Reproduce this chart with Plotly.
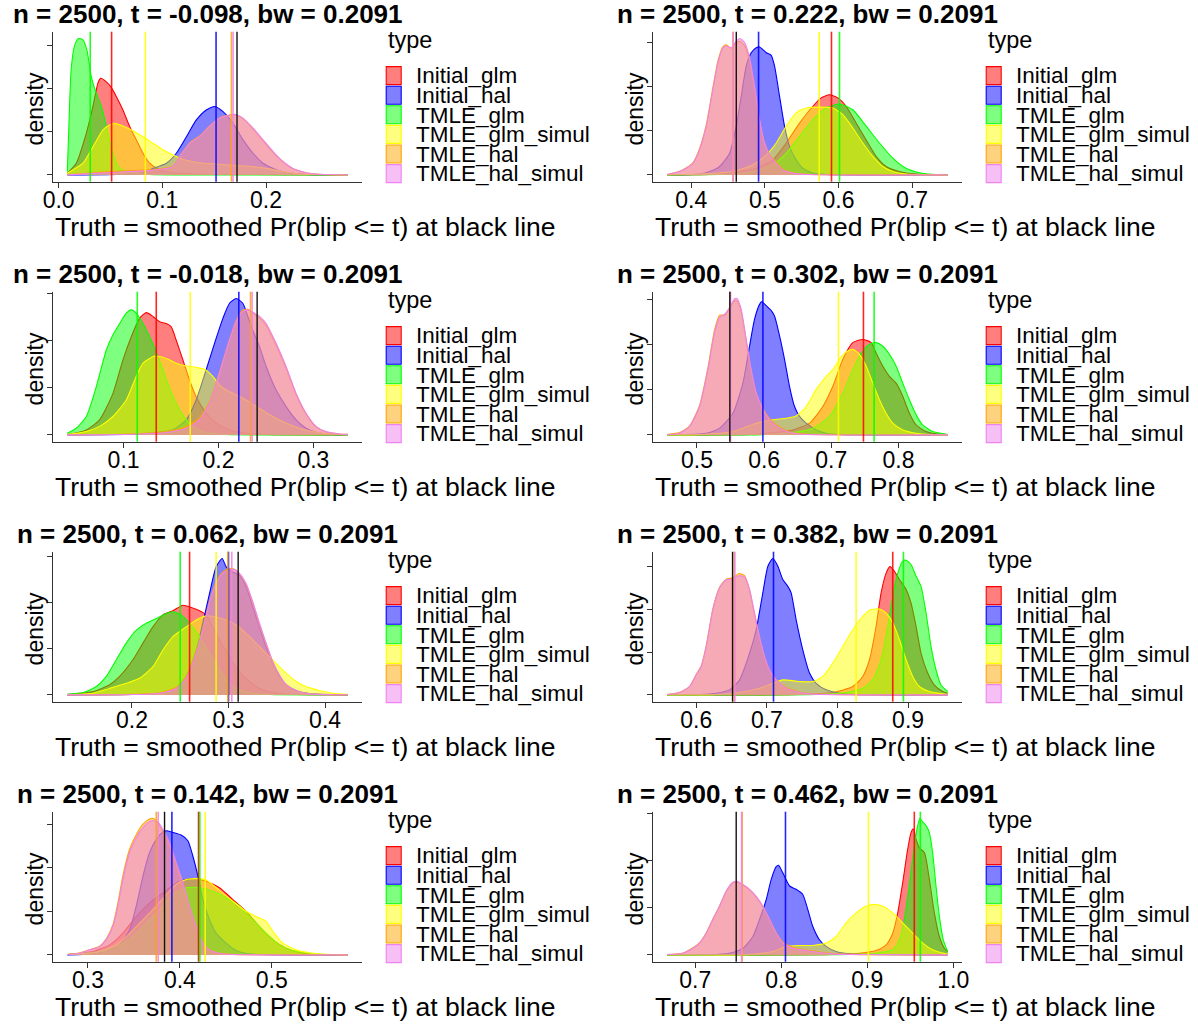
import plotly.graph_objects as go

# ---------------------------------------------------------------------------
# Simulation summary: for each threshold t, the distribution of the estimates
# of the smoothed Pr(blip <= t) from every estimator (kernel densities), the
# mean of each estimator and the true value (black line).
# ---------------------------------------------------------------------------
N_OBS = 2500
BANDWIDTH = 0.2091

TYPES = ["Initial_glm", "Initial_hal", "TMLE_glm", "TMLE_glm_simul", "TMLE_hal", "TMLE_hal_simul"]
TYPE_COLORS = ["#FF0000", "#0000FF", "#00FF00", "#FFFF00", "#FFA500", "#EE82EE"]

# thresholds, in panel order (row by row, left to right)
T_VALUES = [-0.098, 0.222, -0.018, 0.302, 0.062, 0.382, 0.142, 0.462]

# true smoothed probability per panel
TRUTH = [0.1720, 0.4611, 0.2407, 0.5490, 0.3100, 0.6514, 0.3833, 0.7476]

# estimator means per panel, in TYPES order
MEANS_1 = [0.0511, 0.1518, 0.0305, 0.0836, 0.1666, 0.1682]
MEANS_2 = [0.5905, 0.4914, 0.6014, 0.5738, 0.4570, 0.4566]
MEANS_3 = [0.1344, 0.2214, 0.1144, 0.1702, 0.2337, 0.2354]
MEANS_4 = [0.7479, 0.5982, 0.7638, 0.7107, 0.5490, 0.5500]
MEANS_5 = [0.2597, 0.3000, 0.2500, 0.2872, 0.2993, 0.3034]
MEANS_6 = [0.8783, 0.7094, 0.8934, 0.8264, 0.6538, 0.6547]
MEANS_7 = [0.4203, 0.3913, 0.4217, 0.4275, 0.3743, 0.3764]
MEANS_8 = [0.9547, 0.8049, 0.9617, 0.9013, 0.7546, 0.7538]

# ---- density curves: (estimate, density) pairs --------------------------
# t = -0.098
P1_INITIAL_GLM = [(0.0084, 0.4), (0.017, 2.7), (0.0267, 9.6), (0.0331, 15.8), (0.0379, 21.2), (0.0405, 22.3),
                  (0.046, 21.5), (0.0508, 20.2), (0.0556, 18.1), (0.062, 15.0), (0.0685, 11.2), (0.0749, 8.1),
                  (0.0814, 5.0), (0.0878, 2.7), (0.0974, 1.2), (0.110, 0.5), (0.136, 0.2), (0.2787, 0.0)]
P1_INITIAL_HAL = [(0.0084, 0.0), (0.0781, 0.4), (0.091, 1.5), (0.1039, 2.7), (0.1135, 5.0), (0.1232, 8.8),
                  (0.1328, 12.7), (0.1424, 15.0), (0.1505, 15.8), (0.1585, 14.6), (0.1682, 11.9), (0.1778, 8.1),
                  (0.1875, 5.0), (0.1971, 2.7), (0.21, 1.2), (0.2228, 0.4), (0.2389, 0.1), (0.2787, 0.0)]
P1_TMLE_GLM = [(0.0084, 0.8), (0.0100, 12.0), (0.0120, 24.0), (0.0150, 29.5), (0.0190, 31.5), (0.0235, 31.2),
               (0.0273, 28.8), (0.0315, 22.7), (0.0363, 18.8), (0.0412, 15.8), (0.046, 11.2), (0.0524, 5.0),
               (0.0588, 1.5), (0.0717, 0.5), (0.0878, 0.1), (0.2787, 0.0)]
P1_TMLE_GLM_SIMUL = [(0.0084, 0.4), (0.0235, 2.7), (0.0331, 6.5), (0.0428, 10.4), (0.0492, 11.5), (0.054, 11.9),
                     (0.062, 11.3), (0.0717, 10.2), (0.0814, 8.8), (0.091, 7.3), (0.1006, 5.8), (0.1103, 4.6),
                     (0.12, 3.6), (0.136, 2.8), (0.152, 2.5), (0.168, 2.2), (0.1875, 1.9), (0.2003, 1.5),
                     (0.2164, 0.8), (0.2325, 0.2), (0.2787, 0.0)]
P1_TMLE_HAL = [(0.0084, 0.0), (0.0396, 0.6), (0.0717, 1.0), (0.0942, 1.3), (0.1103, 2.0), (0.1167, 4.3),
               (0.1264, 7.4), (0.136, 9.0), (0.1457, 11.3), (0.1553, 13.2), (0.165, 13.8), (0.1698, 13.9),
               (0.1778, 13.0), (0.1875, 10.6), (0.1971, 7.9), (0.2068, 5.2), (0.2164, 3.0), (0.226, 1.4),
               (0.2389, 0.5), (0.2518, 0.15), (0.2787, 0.0)]
P1_TMLE_HAL_SIMUL = [(0.0084, 0.0), (0.0396, 0.4), (0.0717, 0.8), (0.0942, 1.2), (0.1103, 1.9), (0.1167, 4.2),
                     (0.1264, 7.3), (0.136, 8.8), (0.1457, 11.2), (0.1553, 13.1), (0.165, 13.8), (0.1698, 14.0),
                     (0.1778, 13.1), (0.1875, 10.8), (0.1971, 8.1), (0.2068, 5.4), (0.2164, 3.1), (0.226, 1.5),
                     (0.2389, 0.5), (0.2518, 0.15), (0.2787, 0.0)]

# t = 0.222
P2_INITIAL_GLM = [(0.3674, 0.0), (0.4339, 0.15), (0.4656, 0.76), (0.4882, 1.5), (0.5109, 3.4), (0.529, 7.2),
                  (0.5471, 11.7), (0.5652, 15.5), (0.5765, 17.4), (0.5878, 18.1), (0.5991, 17.4), (0.6104, 15.5),
                  (0.624, 11.7), (0.6376, 7.9), (0.6511, 4.2), (0.6647, 1.9), (0.6828, 0.76), (0.7054, 0.2),
                  (0.7484, 0.0)]
P2_INITIAL_HAL = [(0.3674, 0.0), (0.4113, 0.2), (0.4249, 0.76), (0.4385, 1.9), (0.452, 4.9), (0.4611, 11.0),
                  (0.4679, 17.8), (0.4747, 24.6), (0.4814, 27.6), (0.4882, 28.7), (0.4928, 28.9), (0.4973, 28.3),
                  (0.5018, 27.6), (0.5086, 27.0), (0.5131, 24.6), (0.5199, 17.8), (0.5267, 11.0), (0.5335, 6.4),
                  (0.5425, 3.4), (0.5516, 1.5), (0.5652, 0.4), (0.5833, 0.1), (0.7484, 0.0)]
P2_TMLE_GLM = [(0.3674, 0.0), (0.4566, 0.2), (0.4837, 0.76), (0.5109, 2.3), (0.529, 4.9), (0.5471, 8.7),
               (0.5652, 12.5), (0.5833, 15.1), (0.6014, 16.0), (0.6195, 14.7), (0.6376, 11.0), (0.6557, 7.2),
               (0.6738, 3.8), (0.6919, 1.5), (0.71, 0.5), (0.7281, 0.15), (0.7484, 0.0)]
P2_TMLE_GLM_SIMUL = [(0.3674, 0.0), (0.4113, 0.2), (0.4566, 0.76), (0.4837, 2.3), (0.5018, 4.5), (0.5154, 7.2),
                     (0.529, 11.0), (0.5425, 14.0), (0.5561, 15.1), (0.5742, 15.3), (0.5923, 15.1), (0.6059, 13.6),
                     (0.6195, 10.6), (0.633, 7.2), (0.6466, 4.2), (0.6602, 1.9), (0.6738, 0.76), (0.6919, 0.2),
                     (0.7484, 0.0)]
P2_TMLE_HAL = [(0.3674, 0.1), (0.3842, 0.8), (0.3932, 1.6), (0.4023, 2.8), (0.4113, 6.0), (0.4204, 11.4),
               (0.4294, 19.8), (0.4362, 25.8), (0.443, 29.0), (0.4475, 29.4), (0.4543, 28.6), (0.4611, 29.8),
               (0.4656, 30.2), (0.4724, 29.2), (0.4792, 25.8), (0.486, 19.5), (0.4928, 12.2), (0.4995, 7.2),
               (0.5063, 4.6), (0.5154, 2.8), (0.5244, 1.3), (0.538, 0.5), (0.5561, 0.15), (0.7484, 0.0)]
P2_TMLE_HAL_SIMUL = [(0.3674, 0.1), (0.3842, 0.76), (0.3932, 1.5), (0.4023, 2.6), (0.4113, 5.7), (0.4204, 11.0),
                     (0.4294, 19.3), (0.4362, 25.3), (0.443, 28.7), (0.4475, 29.1), (0.4543, 28.7), (0.4611, 30.2),
                     (0.4656, 30.8), (0.4724, 29.9), (0.4792, 26.5), (0.486, 20.0), (0.4928, 12.5), (0.4995, 7.2),
                     (0.5063, 4.5), (0.5154, 2.6), (0.5244, 1.1), (0.538, 0.4), (0.5561, 0.1), (0.7484, 0.0)]

# t = -0.018
P3_INITIAL_GLM = [(0.0407, 0.05), (0.0607, 1.06), (0.0747, 3.2), (0.0888, 8.8), (0.0993, 15.9), (0.1081, 20.8),
                  (0.1168, 24.7), (0.1239, 25.9), (0.1309, 25.1), (0.1379, 24.0), (0.1449, 23.6), (0.1502, 22.9),
                  (0.1554, 20.1), (0.1625, 15.9), (0.1695, 11.6), (0.1765, 8.1), (0.187, 4.6), (0.1975, 2.5),
                  (0.2116, 1.06), (0.2291, 0.35), (0.2502, 0.07), (0.3361, 0.0)]
P3_INITIAL_HAL = [(0.0407, 0.0), (0.1098, 0.14), (0.1344, 0.5), (0.1519, 1.06), (0.166, 3.2), (0.1765, 7.4),
                  (0.187, 13.8), (0.1958, 19.4), (0.2046, 24.7), (0.2116, 27.9), (0.2186, 28.9), (0.2256, 27.9),
                  (0.2309, 25.1), (0.2361, 22.2), (0.2432, 18.7), (0.2502, 14.5), (0.2607, 9.5), (0.2712, 6.0),
                  (0.2818, 3.2), (0.2923, 1.4), (0.3028, 0.56), (0.3168, 0.14), (0.3361, 0.0)]
P3_TMLE_GLM = [(0.0407, 0.35), (0.0502, 1.4), (0.0607, 3.9), (0.0712, 10.2), (0.0818, 18.0), (0.0888, 21.2),
               (0.0958, 23.6), (0.1028, 25.8), (0.1081, 26.5), (0.1133, 25.8), (0.1204, 23.6), (0.1274, 20.8),
               (0.1344, 17.6), (0.1414, 13.8), (0.1484, 9.9), (0.1554, 6.7), (0.1625, 4.2), (0.173, 1.8),
               (0.187, 0.5), (0.2081, 0.07), (0.3361, 0.0)]
P3_TMLE_GLM_SIMUL = [(0.0407, 0.05), (0.0607, 0.7), (0.0747, 1.8), (0.0888, 3.9), (0.1028, 7.4), (0.1133, 12.4),
                     (0.1204, 15.2), (0.1274, 16.2), (0.1326, 16.7), (0.1449, 16.2), (0.1554, 15.2), (0.166, 14.6),
                     (0.1765, 14.3), (0.1853, 13.9), (0.194, 12.4), (0.2028, 10.2), (0.2151, 8.8), (0.2291, 7.4),
                     (0.2432, 5.6), (0.2572, 3.9), (0.2712, 2.5), (0.2853, 1.4), (0.2993, 0.7), (0.3133, 0.28),
                     (0.3361, 0.0)]
P3_TMLE_HAL = [(0.0407, 0.0), (0.1098, 0.2), (0.1449, 0.7), (0.166, 1.8), (0.18, 3.6), (0.1905, 7.0),
               (0.2011, 13.3), (0.2116, 20.2), (0.2186, 24.2), (0.2256, 26.4), (0.2309, 26.6), (0.2379, 25.6),
               (0.2432, 24.8), (0.2502, 23.2), (0.2607, 19.0), (0.2712, 14.1), (0.2818, 8.5), (0.2923, 4.4),
               (0.3028, 1.7), (0.3133, 0.6), (0.3274, 0.2), (0.3361, 0.1)]
P3_TMLE_HAL_SIMUL = [(0.0407, 0.0), (0.1098, 0.14), (0.1449, 0.5), (0.166, 1.4), (0.18, 3.2), (0.1905, 6.7),
                     (0.2011, 13.1), (0.2116, 20.1), (0.2186, 24.0), (0.2256, 26.1), (0.2309, 26.5), (0.2379, 25.8),
                     (0.2432, 25.1), (0.2502, 23.6), (0.2607, 19.4), (0.2712, 14.5), (0.2818, 8.8), (0.2923, 4.6),
                     (0.3028, 1.8), (0.3133, 0.7), (0.3274, 0.2), (0.3361, 0.1)]

# t = 0.302
P4_INITIAL_GLM = [(0.4559, 0.0), (0.5783, 0.07), (0.613, 0.5), (0.6428, 1.1), (0.6676, 2.6), (0.6874, 6.3),
                  (0.7023, 10.8), (0.7172, 16.8), (0.732, 20.5), (0.7469, 21.2), (0.7593, 20.5), (0.7667, 18.2),
                  (0.7766, 15.3), (0.7866, 13.0), (0.7965, 11.5), (0.8064, 8.6), (0.8163, 4.8), (0.8262, 2.2),
                  (0.8411, 0.74), (0.856, 0.22), (0.8733, 0.05)]
P4_INITIAL_HAL = [(0.4559, 0.0), (0.4792, 0.07), (0.5139, 0.37), (0.5337, 1.5), (0.5535, 4.8), (0.5684, 11.5),
                  (0.5783, 19.7), (0.5858, 25.7), (0.5932, 29.0), (0.5967, 29.6), (0.6031, 28.7), (0.6106, 27.6),
                  (0.6155, 26.4), (0.623, 22.0), (0.6304, 16.8), (0.6378, 10.8), (0.6453, 6.3), (0.6527, 4.1),
                  (0.6626, 2.6), (0.6775, 1.1), (0.6924, 0.37), (0.7122, 0.07), (0.8733, 0.0)]
P4_TMLE_GLM = [(0.4559, 0.0), (0.6031, 0.07), (0.6428, 0.5), (0.6725, 1.5), (0.6973, 4.1), (0.7172, 9.3),
               (0.732, 14.5), (0.7469, 18.6), (0.7568, 20.1), (0.7667, 20.5), (0.7766, 19.7), (0.7866, 17.9),
               (0.7965, 15.3), (0.8064, 11.5), (0.8163, 7.8), (0.8262, 4.5), (0.8361, 2.2), (0.851, 0.74),
               (0.8708, 0.15), (0.8733, 0.1)]
P4_TMLE_GLM_SIMUL = [(0.4559, 0.0), (0.504, 0.07), (0.5535, 0.74), (0.5882, 2.6), (0.613, 3.35), (0.6329, 3.7),
                     (0.6477, 4.2), (0.6626, 6.3), (0.6775, 10.1), (0.6924, 13.0), (0.7023, 14.5), (0.7122, 16.8),
                     (0.7221, 18.4), (0.732, 19.0), (0.7419, 17.9), (0.7519, 15.3), (0.7618, 11.5), (0.7717, 7.8),
                     (0.7816, 4.8), (0.7915, 2.6), (0.8064, 1.1), (0.8262, 0.37), (0.8461, 0.07), (0.8733, 0.0)]
P4_TMLE_HAL = [(0.4559, 0.1), (0.4742, 0.5), (0.4891, 2.0), (0.504, 6.6), (0.5164, 15.0), (0.5263, 23.4),
               (0.5337, 26.6), (0.5412, 26.6), (0.5486, 28.0), (0.556, 29.8), (0.5595, 29.8), (0.5659, 27.4),
               (0.5734, 20.8), (0.5808, 14.2), (0.5882, 9.3), (0.5982, 5.8), (0.6081, 3.6), (0.623, 1.7),
               (0.6378, 0.7), (0.6577, 0.2), (0.8733, 0.0)]
P4_TMLE_HAL_SIMUL = [(0.4559, 0.07), (0.4742, 0.37), (0.4891, 1.86), (0.504, 6.3), (0.5164, 14.5), (0.5263, 22.7),
                     (0.5337, 26.1), (0.5412, 26.8), (0.5486, 28.3), (0.556, 30.2), (0.5595, 30.3), (0.5659, 27.9),
                     (0.5734, 21.2), (0.5808, 14.5), (0.5882, 9.3), (0.5982, 5.6), (0.6081, 3.35), (0.623, 1.5),
                     (0.6378, 0.6), (0.6577, 0.15), (0.8733, 0.0)]

# t = 0.062
P5_INITIAL_GLM = [(0.1331, 0.07), (0.1597, 0.72), (0.1769, 2.2), (0.1872, 4.0), (0.201, 7.6), (0.2114, 11.2),
                  (0.2217, 14.7), (0.2321, 17.3), (0.2424, 18.2), (0.2528, 19.4), (0.2614, 18.9), (0.27, 18.2),
                  (0.2769, 17.3), (0.2838, 14.7), (0.2907, 11.9), (0.301, 8.3), (0.3114, 5.0), (0.3217, 2.9),
                  (0.3321, 1.4), (0.3459, 0.5), (0.3631, 0.14), (0.4234, 0.0)]
P5_INITIAL_HAL = [(0.1331, 0.0), (0.201, 0.07), (0.2286, 0.36), (0.2459, 1.4), (0.2562, 4.0), (0.2666, 9.7),
                  (0.2734, 15.5), (0.2803, 21.9), (0.2872, 27.7), (0.2934, 29.5), (0.2976, 27.7), (0.3045, 26.6),
                  (0.3114, 25.9), (0.3183, 23.4), (0.3252, 19.1), (0.3321, 14.7), (0.339, 10.4), (0.3459, 6.8),
                  (0.3528, 4.0), (0.3597, 2.2), (0.37, 0.94), (0.3838, 0.29), (0.4234, 0.0)]
P5_TMLE_GLM = [(0.1331, 0.14), (0.1493, 0.5), (0.1631, 1.8), (0.1734, 4.0), (0.1838, 7.6), (0.1941, 11.2),
               (0.2045, 14.0), (0.2148, 15.5), (0.2252, 16.5), (0.2355, 17.6), (0.2424, 18.0), (0.251, 17.3),
               (0.2597, 15.5), (0.27, 12.6), (0.2803, 9.0), (0.2907, 5.4), (0.301, 2.5), (0.3114, 1.1),
               (0.3252, 0.36), (0.3424, 0.07), (0.4234, 0.0)]
P5_TMLE_GLM_SIMUL = [(0.1331, 0.07), (0.1597, 0.36), (0.1769, 1.4), (0.1941, 2.5), (0.2079, 3.6), (0.2217, 6.1),
                     (0.2321, 9.7), (0.2424, 12.6), (0.2562, 14.7), (0.2666, 16.2), (0.2769, 17.1), (0.2872, 16.8),
                     (0.2976, 16.2), (0.3079, 15.1), (0.3183, 13.3), (0.3286, 11.2), (0.339, 9.0), (0.3493, 6.8),
                     (0.3597, 4.7), (0.37, 2.9), (0.3803, 1.8), (0.3941, 0.94), (0.4079, 0.36), (0.4234, 0.12)]
P5_TMLE_HAL = [(0.1331, 0.0), (0.201, 0.1), (0.2286, 0.45), (0.2459, 1.6), (0.2562, 3.9), (0.2666, 9.4),
               (0.2734, 14.4), (0.2803, 20.1), (0.2872, 24.4), (0.2941, 26.6), (0.301, 27.3), (0.3062, 27.2),
               (0.3114, 26.2), (0.3183, 23.8), (0.3252, 19.7), (0.3321, 15.1), (0.339, 10.9), (0.3459, 7.0),
               (0.3528, 4.2), (0.3597, 2.1), (0.37, 0.9), (0.3838, 0.22), (0.4234, 0.0)]
P5_TMLE_HAL_SIMUL = [(0.1331, 0.0), (0.201, 0.07), (0.2286, 0.36), (0.2459, 1.4), (0.2562, 3.6), (0.2666, 9.0),
                     (0.2734, 14.0), (0.2803, 19.8), (0.2872, 24.1), (0.2941, 26.3), (0.301, 27.0), (0.3062, 27.1),
                     (0.3114, 26.3), (0.3183, 24.1), (0.3252, 20.1), (0.3321, 15.5), (0.339, 11.2), (0.3459, 7.2),
                     (0.3528, 4.3), (0.3597, 2.2), (0.37, 0.94), (0.3838, 0.22), (0.4234, 0.0)]

# t = 0.382
P6_INITIAL_GLM = [(0.559, 0.0), (0.7462, 0.08), (0.7934, 0.55), (0.8217, 1.95), (0.8358, 4.3), (0.8453, 8.2),
                  (0.8547, 16.0), (0.8618, 23.8), (0.8689, 28.4), (0.8745, 29.9), (0.8807, 28.8), (0.8877, 26.9),
                  (0.8972, 24.6), (0.9042, 21.4), (0.9113, 16.0), (0.9184, 9.7), (0.9278, 5.1), (0.9373, 2.3),
                  (0.9491, 0.78), (0.9561, 0.39)]
P6_INITIAL_HAL = [(0.559, 0.0), (0.6047, 0.08), (0.6283, 0.39), (0.6472, 1.17), (0.6613, 3.5), (0.6755, 9.7),
                  (0.6849, 15.2), (0.6943, 23.8), (0.7014, 30.0), (0.7085, 31.8), (0.7156, 30.0), (0.7226, 26.9),
                  (0.7297, 25.3), (0.7344, 23.8), (0.7415, 17.5), (0.7509, 10.5), (0.7604, 5.1), (0.7698, 2.7),
                  (0.784, 1.17), (0.8028, 0.39), (0.8217, 0.08), (0.9561, 0.0)]
P6_TMLE_GLM = [(0.559, 0.0), (0.7698, 0.08), (0.8123, 0.55), (0.8358, 1.56), (0.85, 3.5), (0.8618, 8.2),
               (0.8712, 16.0), (0.8783, 23.0), (0.8854, 28.4), (0.8925, 31.2), (0.8972, 31.4), (0.9042, 30.4),
               (0.9113, 27.7), (0.9184, 25.3), (0.9255, 19.1), (0.9325, 11.3), (0.9396, 5.8), (0.9467, 2.3),
               (0.9561, 0.78)]
P6_TMLE_GLM_SIMUL = [(0.559, 0.0), (0.6283, 0.08), (0.6613, 0.55), (0.6896, 1.56), (0.7085, 2.7), (0.7226, 3.5),
                     (0.7462, 3.1), (0.7651, 3.1), (0.7792, 4.3), (0.7934, 7.4), (0.8075, 11.3), (0.8217, 15.2),
                     (0.8358, 18.3), (0.8476, 19.9), (0.8594, 20.0), (0.8689, 19.1), (0.8783, 16.8), (0.8877, 12.9),
                     (0.8972, 8.2), (0.9066, 4.3), (0.916, 1.95), (0.9302, 0.78), (0.9491, 0.23), (0.9561, 0.1)]
P6_TMLE_HAL = [(0.559, 0.1), (0.5764, 0.6), (0.5906, 2.0), (0.6, 4.8), (0.6071, 6.8), (0.6142, 11.6),
               (0.6236, 20.2), (0.633, 25.1), (0.6425, 27.0), (0.6519, 27.3), (0.6604, 28.3), (0.6684, 27.8),
               (0.6755, 24.4), (0.6825, 18.8), (0.6896, 13.3), (0.6967, 8.8), (0.7038, 5.7), (0.7132, 3.5),
               (0.7274, 1.7), (0.7415, 0.9), (0.7604, 0.3), (0.9561, 0.0)]
P6_TMLE_HAL_SIMUL = [(0.559, 0.08), (0.5764, 0.55), (0.5906, 1.95), (0.6, 4.7), (0.6071, 6.6), (0.6142, 11.3),
                     (0.6236, 19.9), (0.633, 24.9), (0.6425, 26.9), (0.6519, 27.0), (0.6604, 27.8), (0.6684, 27.5),
                     (0.6755, 24.6), (0.6825, 19.1), (0.6896, 13.6), (0.6967, 9.0), (0.7038, 5.8), (0.7132, 3.5),
                     (0.7274, 1.56), (0.7415, 0.78), (0.7604, 0.23), (0.9561, 0.0)]

# t = 0.142
P7_INITIAL_GLM = [(0.2775, 0.08), (0.3054, 0.77), (0.3236, 2.3), (0.338, 5.0), (0.3525, 8.8), (0.367, 11.9),
                  (0.3815, 14.2), (0.396, 16.5), (0.4069, 17.3), (0.4178, 17.5), (0.4286, 16.9), (0.4431, 15.4),
                  (0.4576, 12.7), (0.4721, 10.0), (0.4866, 6.5), (0.5011, 3.5), (0.5156, 1.5), (0.5301, 0.54),
                  (0.5482, 0.15), (0.5826, 0.0)]
P7_INITIAL_HAL = [(0.2775, 0.0), (0.2946, 0.08), (0.3199, 0.77), (0.3344, 2.3), (0.3453, 5.8), (0.3525, 11.2),
                  (0.3598, 18.1), (0.367, 23.5), (0.3743, 26.5), (0.3815, 28.2), (0.3851, 28.5), (0.3924, 28.1),
                  (0.4014, 27.5), (0.4087, 26.2), (0.4141, 22.7), (0.4196, 18.1), (0.425, 12.7), (0.4322, 8.1),
                  (0.4395, 5.0), (0.4504, 2.7), (0.4612, 1.0), (0.4757, 0.23), (0.5826, 0.0)]
P7_TMLE_GLM = [(0.2775, 0.08), (0.3127, 0.77), (0.3308, 1.9), (0.3489, 4.2), (0.3634, 7.3), (0.3779, 10.4),
               (0.3924, 13.8), (0.4069, 15.4), (0.4214, 15.4), (0.4359, 14.6), (0.4504, 13.1), (0.4649, 11.2),
               (0.4793, 8.1), (0.4938, 5.0), (0.5083, 2.3), (0.5228, 1.0), (0.5409, 0.38), (0.5591, 0.08),
               (0.5826, 0.0)]
P7_TMLE_GLM_SIMUL = [(0.2775, 0.08), (0.3091, 0.6), (0.3272, 1.9), (0.3417, 4.2), (0.3562, 7.3), (0.3707, 10.4),
                     (0.3851, 13.8), (0.396, 16.2), (0.4069, 17.3), (0.4178, 17.5), (0.4286, 17.2), (0.4431, 14.8),
                     (0.4576, 12.3), (0.4721, 10.0), (0.483, 8.8), (0.4938, 7.7), (0.5011, 5.4), (0.512, 2.7),
                     (0.5264, 1.15), (0.5446, 0.38), (0.5663, 0.08), (0.5826, 0.0)]
P7_TMLE_HAL = [(0.2775, 0.1), (0.2909, 0.45), (0.3018, 1.2), (0.3127, 2.0), (0.3199, 3.7), (0.3272, 7.0),
               (0.3326, 12.0), (0.338, 18.2), (0.3453, 24.3), (0.3525, 27.6), (0.3598, 30.0), (0.367, 31.2),
               (0.3714, 31.3), (0.3761, 30.3), (0.3815, 28.2), (0.3888, 25.0), (0.396, 20.5), (0.4033, 16.0),
               (0.4105, 11.0), (0.4178, 6.4), (0.425, 2.8), (0.4322, 1.2), (0.4431, 0.4), (0.4576, 0.1),
               (0.5826, 0.0)]
P7_TMLE_HAL_SIMUL = [(0.2775, 0.08), (0.2909, 0.38), (0.3018, 1.15), (0.3127, 1.9), (0.3199, 3.5), (0.3272, 6.5),
                     (0.3326, 11.2), (0.338, 17.3), (0.3453, 23.5), (0.3525, 26.9), (0.3598, 29.2), (0.367, 30.6),
                     (0.3714, 30.8), (0.3761, 30.5), (0.3815, 28.8), (0.3888, 25.8), (0.396, 21.2), (0.4033, 16.5),
                     (0.4105, 11.2), (0.4178, 6.5), (0.425, 2.7), (0.4322, 1.15), (0.4431, 0.38), (0.4576, 0.08),
                     (0.5826, 0.0)]

# t = 0.462
P8_INITIAL_GLM = [(0.6675, 0.0), (0.8599, 0.07), (0.8909, 0.36), (0.9102, 0.92), (0.9218, 2.1), (0.9296, 4.6),
                  (0.9354, 8.9), (0.9412, 15.3), (0.947, 22.4), (0.9509, 25.9), (0.9536, 26.7), (0.9567, 24.5),
                  (0.9605, 22.7), (0.9664, 21.7), (0.9722, 16.0), (0.978, 8.9), (0.9838, 3.9), (0.9896, 1.4),
                  (0.9935, 0.71)]
P8_INITIAL_HAL = [(0.6675, 0.0), (0.7244, 0.07), (0.7437, 0.5), (0.7554, 1.4), (0.767, 3.9), (0.7747, 7.5),
                  (0.7825, 11.7), (0.7883, 16.0), (0.7941, 18.7), (0.7968, 19.0), (0.8018, 17.4), (0.8096, 14.6),
                  (0.8173, 13.9), (0.825, 12.8), (0.8309, 9.6), (0.8367, 6.0), (0.8444, 3.2), (0.8521, 1.8),
                  (0.8638, 0.71), (0.8792, 0.21), (0.8986, 0.07), (0.9935, 0.0)]
P8_TMLE_GLM = [(0.6675, 0.0), (0.8792, 0.07), (0.9102, 0.36), (0.9296, 1.07), (0.9373, 3.2), (0.9431, 7.5),
               (0.9489, 14.6), (0.9547, 23.1), (0.9586, 27.4), (0.9613, 28.9), (0.9644, 28.2), (0.9683, 27.4),
               (0.9722, 25.9), (0.976, 21.7), (0.9799, 14.6), (0.9838, 8.2), (0.9884, 3.2), (0.9935, 0.71)]
P8_TMLE_GLM_SIMUL = [(0.6675, 0.0), (0.7631, 0.07), (0.7902, 0.71), (0.8057, 1.8), (0.8212, 2.0), (0.8367, 2.0),
                     (0.8521, 2.5), (0.8638, 3.9), (0.8754, 6.8), (0.887, 8.9), (0.8986, 10.3), (0.9083, 10.7),
                     (0.918, 10.3), (0.9296, 8.9), (0.9412, 6.8), (0.9528, 4.6), (0.9644, 2.5), (0.976, 1.07),
                     (0.9915, 0.21), (0.9935, 0.15)]
P8_TMLE_HAL = [(0.6675, 0.07), (0.6857, 0.4), (0.6973, 1.5), (0.705, 2.6), (0.7128, 4.7), (0.7205, 7.6),
               (0.7283, 10.4), (0.736, 13.5), (0.7437, 15.3), (0.7484, 15.4), (0.7554, 14.8), (0.7631, 13.8),
               (0.7708, 12.3), (0.7786, 10.2), (0.7863, 7.5), (0.7941, 4.7), (0.8018, 2.7), (0.8134, 1.6),
               (0.8289, 1.0), (0.8444, 0.6), (0.8599, 0.3), (0.8792, 0.1), (0.9935, 0.0)]
P8_TMLE_HAL_SIMUL = [(0.6675, 0.07), (0.6857, 0.36), (0.6973, 1.4), (0.705, 2.5), (0.7128, 4.6), (0.7205, 7.5),
                     (0.7283, 10.3), (0.736, 13.5), (0.7437, 15.4), (0.7484, 15.6), (0.7554, 14.9), (0.7631, 13.9),
                     (0.7708, 12.4), (0.7786, 10.3), (0.7863, 7.5), (0.7941, 4.6), (0.8018, 2.5), (0.8134, 1.4),
                     (0.8289, 0.92), (0.8444, 0.5), (0.8599, 0.21), (0.8792, 0.07), (0.9935, 0.0)]

PANELS = [
    ([P1_INITIAL_GLM, P1_INITIAL_HAL, P1_TMLE_GLM, P1_TMLE_GLM_SIMUL, P1_TMLE_HAL, P1_TMLE_HAL_SIMUL], MEANS_1),
    ([P2_INITIAL_GLM, P2_INITIAL_HAL, P2_TMLE_GLM, P2_TMLE_GLM_SIMUL, P2_TMLE_HAL, P2_TMLE_HAL_SIMUL], MEANS_2),
    ([P3_INITIAL_GLM, P3_INITIAL_HAL, P3_TMLE_GLM, P3_TMLE_GLM_SIMUL, P3_TMLE_HAL, P3_TMLE_HAL_SIMUL], MEANS_3),
    ([P4_INITIAL_GLM, P4_INITIAL_HAL, P4_TMLE_GLM, P4_TMLE_GLM_SIMUL, P4_TMLE_HAL, P4_TMLE_HAL_SIMUL], MEANS_4),
    ([P5_INITIAL_GLM, P5_INITIAL_HAL, P5_TMLE_GLM, P5_TMLE_GLM_SIMUL, P5_TMLE_HAL, P5_TMLE_HAL_SIMUL], MEANS_5),
    ([P6_INITIAL_GLM, P6_INITIAL_HAL, P6_TMLE_GLM, P6_TMLE_GLM_SIMUL, P6_TMLE_HAL, P6_TMLE_HAL_SIMUL], MEANS_6),
    ([P7_INITIAL_GLM, P7_INITIAL_HAL, P7_TMLE_GLM, P7_TMLE_GLM_SIMUL, P7_TMLE_HAL, P7_TMLE_HAL_SIMUL], MEANS_7),
    ([P8_INITIAL_GLM, P8_INITIAL_HAL, P8_TMLE_GLM, P8_TMLE_GLM_SIMUL, P8_TMLE_HAL, P8_TMLE_HAL_SIMUL], MEANS_8),
]

# ---------------------------------------------------------------------------
# Page layout (pixels)
# ---------------------------------------------------------------------------
FIG_W, FIG_H = 1198, 1028
COL_LEFT = [53.3, 653.3]        # left edge of the panel in each column
PANEL_W = 308.4
ROW_TOP0 = 31.7
ROW_STEP = 260.0
PANEL_H = 150.0

FONT = "Liberation Sans, Arial, Helvetica, sans-serif"
AXIS_COLOR = "#333333"
FILL_ALPHA = 0.5


def hex_rgba(hex_color, alpha):
    h = hex_color.lstrip("#")
    r, g, b = int(h[0:2], 16), int(h[2:4], 16), int(h[4:6], 16)
    return f"rgba({r},{g},{b},{alpha})"


def px_x(px):
    return px / FIG_W


def px_y(px):
    return 1.0 - px / FIG_H


X_TITLE = "Truth = smoothed Pr(blip <= t) at black line"

fig = go.Figure()
shapes = []
annotations = []
layout_axes = {}

for p, (curves, means) in enumerate(PANELS):
    row, col = divmod(p, 2)
    ax = p + 1
    xname = "x" if ax == 1 else f"x{ax}"
    yname = "y" if ax == 1 else f"y{ax}"
    left = COL_LEFT[col]
    top = ROW_TOP0 + ROW_STEP * row

    # densities, drawn in factor order so later groups sit on top
    for name, color, pts in zip(TYPES, TYPE_COLORS, curves):
        fig.add_trace(go.Scatter(
            x=[q[0] for q in pts], y=[q[1] for q in pts],
            mode="lines", name=name,
            line=dict(color=color, width=1.1, shape="spline", smoothing=0.6),
            fill="tozeroy", fillcolor=hex_rgba(color, FILL_ALPHA),
            xaxis=xname, yaxis=yname, showlegend=False, hoverinfo="skip",
        ))

    # scale ranges with the usual 5 % padding on both sides
    xs = [q[0] for c in curves for q in c]
    ys = [q[1] for c in curves for q in c]
    x_lo, x_hi = min(xs), max(xs)
    pad = 0.05 * (x_hi - x_lo)
    y_hi = max(ys)

    axis_common = dict(showline=True, linecolor=AXIS_COLOR, linewidth=1.1,
                       ticks="outside", ticklen=5, tickwidth=1.1, tickcolor=AXIS_COLOR,
                       showgrid=False, zeroline=False, automargin=False)
    layout_axes["xaxis" if ax == 1 else f"xaxis{ax}"] = dict(
        domain=[px_x(left), px_x(left + PANEL_W)], anchor=yname,
        range=[x_lo - pad, x_hi + pad], dtick=0.1, tick0=0, tickformat=".1f",
        ticklabelstandoff=-7,
        tickfont=dict(family=FONT, size=23, color="black"), **axis_common)
    layout_axes["yaxis" if ax == 1 else f"yaxis{ax}"] = dict(
        domain=[px_y(top + PANEL_H), px_y(top)], anchor=xname,
        range=[-0.05 * y_hi, 1.05 * y_hi], dtick=10, tick0=0,
        showticklabels=False, **axis_common)

    # estimator means, then the truth on top
    for color, m in zip(TYPE_COLORS, means):
        shapes.append(dict(type="line", xref=xname, yref=f"{yname} domain",
                           x0=m, x1=m, y0=0, y1=1,
                           line=dict(color=color, width=1.6), opacity=0.85))
    shapes.append(dict(type="line", xref=xname, yref=f"{yname} domain",
                       x0=TRUTH[p], x1=TRUTH[p], y0=0, y1=1,
                       line=dict(color="#111111", width=1.4)))

    # panel title
    title = f"n = {N_OBS}, t = {T_VALUES[p]:.3f}, bw = {BANDWIDTH:.4f}"
    annotations.append(dict(
        text=f"<b>{title}</b>",
        xref="paper", yref="paper", x=px_x(left + PANEL_W / 2), y=px_y(top - 18.0),
        xanchor="center", yanchor="middle", showarrow=False,
        font=dict(family=FONT, size=26, color="black")))
    # axis titles
    annotations.append(dict(
        text=X_TITLE,
        xref="paper", yref="paper", x=px_x(left), y=px_y(top + 195.0),
        xanchor="left", yanchor="middle", showarrow=False,
        font=dict(family=FONT, size=26.5, color="black")))
    annotations.append(dict(
        text="density", textangle=-90,
        xref="paper", yref="paper", x=px_x(left - 18.6), y=px_y(top + PANEL_H / 2 + 2),
        xanchor="center", yanchor="middle", showarrow=False,
        font=dict(family=FONT, size=23, color="black")))

    # legend for the panel
    key_left = left + 332.4
    annotations.append(dict(
        text="type", xref="paper", yref="paper",
        x=px_x(key_left), y=px_y(top + 8.0),
        xanchor="left", yanchor="middle", showarrow=False,
        font=dict(family=FONT, size=23.5, color="black")))
    key_top = top + 34.3
    key_h = 19.6
    for i, (name, color) in enumerate(zip(TYPES, TYPE_COLORS)):
        y0 = key_top + key_h * i
        shapes.append(dict(type="rect", xref="paper", yref="paper",
                           x0=px_x(key_left + 0.5), x1=px_x(key_left + 15.5),
                           y0=px_y(y0 + key_h - 1.0), y1=px_y(y0 + 0.6),
                           fillcolor=hex_rgba(color, FILL_ALPHA),
                           line=dict(color=color, width=1.1)))
        annotations.append(dict(
            text=name, xref="paper", yref="paper",
            x=px_x(key_left + 28.5), y=px_y(y0 + key_h / 2),
            xanchor="left", yanchor="middle", showarrow=False,
            font=dict(family=FONT, size=22.5, color="black")))

fig.update_layout(
    width=FIG_W, height=FIG_H, autosize=False,
    margin=dict(l=0, r=0, t=0, b=0),
    paper_bgcolor="white", plot_bgcolor="white",
    shapes=shapes, annotations=annotations,
    **layout_axes,
)

fig.write_html("out.html")
